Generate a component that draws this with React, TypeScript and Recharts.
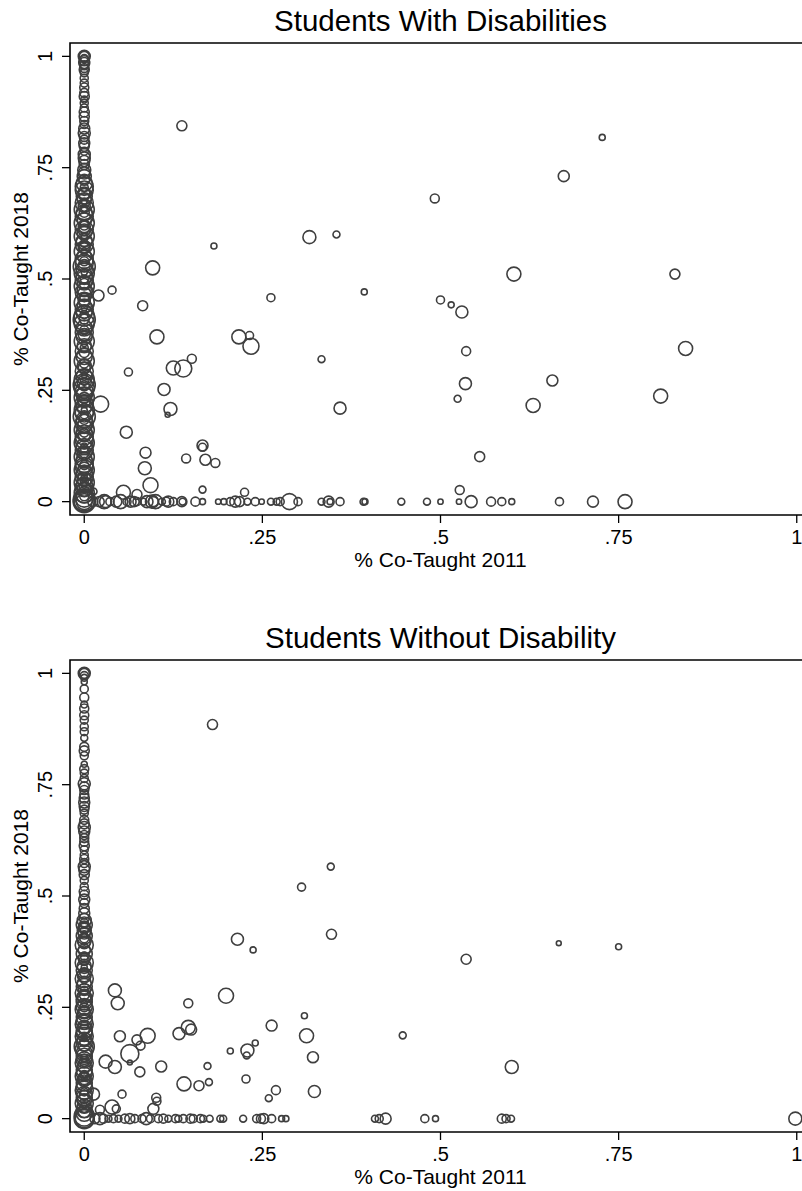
import { ScatterChart, Scatter, XAxis, YAxis, ZAxis, ReferenceArea } from 'recharts'

const FONT = '"Liberation Sans", Arial, Helvetica, sans-serif'
const INK = '#3f3f3f'

const xTicks = [0, 0.25, 0.5, 0.75, 1]
const yTicks = [0, 0.25, 0.5, 0.75, 1]
const xTitle = '% Co-Taught 2011'
const yTitle = '% Co-Taught 2018'
const titleSwd = 'Students With Disabilities'
const titleGen = 'Students Without Disability'

// Students with disabilities
// schools with no co-teaching in 2011: [share 2018, weight]
const swdNone2011 = [
  [1, 36], [1, 25], [0.995, 16], [0.99, 25], [0.985, 30], [0.98, 20], [0.974, 20],
  [0.97, 25], [0.963, 16], [0.951, 16], [0.94, 16], [0.93, 20], [0.918, 20],
  [0.91, 25], [0.903, 12], [0.895, 16], [0.884, 16], [0.875, 25], [0.865, 25],
  [0.855, 20], [0.847, 16], [0.838, 30], [0.828, 36], [0.82, 25], [0.813, 20],
  [0.805, 30], [0.798, 25], [0.787, 16], [0.78, 36], [0.772, 36], [0.765, 30],
  [0.757, 25], [0.745, 42], [0.738, 36], [0.73, 49], [0.723, 30], [0.715, 64],
  [0.708, 81], [0.7, 81], [0.693, 36], [0.686, 64], [0.678, 49], [0.671, 81],
  [0.663, 36], [0.656, 100], [0.648, 64], [0.641, 81], [0.633, 49], [0.626, 100],
  [0.618, 36], [0.611, 81], [0.603, 49], [0.596, 100], [0.585, 64], [0.578, 81],
  [0.57, 36], [0.562, 100], [0.551, 49], [0.544, 81], [0.536, 81], [0.528, 121],
  [0.521, 64], [0.513, 100], [0.506, 64], [0.498, 81], [0.491, 49], [0.484, 100],
  [0.476, 49], [0.47, 81], [0.465, 49], [0.454, 36], [0.447, 100], [0.439, 49],
  [0.432, 81], [0.424, 64], [0.417, 100], [0.409, 121], [0.4, 100], [0.39, 64],
  [0.38, 81], [0.371, 64], [0.36, 100], [0.35, 49], [0.338, 81], [0.326, 64],
  [0.316, 100], [0.305, 49], [0.293, 81], [0.281, 64], [0.274, 100], [0.268, 49],
  [0.262, 121], [0.255, 100], [0.247, 81], [0.24, 64], [0.234, 100], [0.229, 49],
  [0.22, 81], [0.214, 64], [0.206, 100], [0.199, 81], [0.191, 121], [0.184, 64],
  [0.176, 81], [0.169, 49], [0.161, 100], [0.154, 64], [0.147, 81], [0.139, 81],
  [0.132, 100], [0.124, 64], [0.116, 81], [0.109, 49], [0.101, 100], [0.094, 64],
  [0.086, 81], [0.079, 81], [0.071, 100], [0.064, 64], [0.056, 81], [0.049, 49],
  [0.043, 100], [0.038, 64], [0.032, 81], [0.027, 49], [0.02, 100], [0.015, 64],
  [0.008, 81], [0.004, 121], [0, 121], [0, 100], [0, 64],
  // smaller schools inside the band
  [0.705, 16], [0.66, 12], [0.62, 20], [0.58, 16], [0.54, 20], [0.5, 16], [0.46, 20],
  [0.42, 16], [0.385, 20], [0.345, 16], [0.31, 20], [0.27, 16], [0.23, 20],
  [0.195, 16], [0.155, 20], [0.12, 16], [0.082, 20], [0.046, 16], [0.012, 20],
  [0.69, 36], [0.65, 25], [0.61, 36], [0.57, 25], [0.53, 36], [0.49, 25], [0.45, 36],
  [0.41, 25], [0.375, 36], [0.335, 25], [0.3, 36], [0.26, 25], [0.225, 36],
  [0.185, 25], [0.15, 36], [0.11, 25], [0.075, 36], [0.035, 25],
  [0.675, 9], [0.595, 9], [0.515, 9], [0.435, 9], [0.355, 9], [0.285, 9],
  [0.205, 9], [0.125, 9], [0.055, 9],
]
// schools with no co-teaching in 2018: [share 2011, weight]
const swdNone2018 = [
  [0.012, 25], [0.021, 25], [0.028, 49], [0.03, 36], [0.036, 16], [0.045, 30],
  [0.051, 49], [0.06, 16], [0.065, 30], [0.07, 25], [0.074, 16], [0.083, 12],
  [0.088, 36], [0.095, 42], [0.097, 25], [0.1, 49], [0.109, 12], [0.115, 20],
  [0.118, 30], [0.125, 16], [0.137, 25], [0.138, 12], [0.156, 20], [0.166, 9],
  [0.188, 7], [0.196, 9], [0.205, 16], [0.212, 30], [0.218, 25], [0.229, 12],
  [0.24, 16], [0.249, 7], [0.262, 12], [0.27, 12], [0.275, 16], [0.288, 64],
  [0.3, 16], [0.333, 12], [0.343, 30], [0.345, 9], [0.359, 16], [0.392, 12],
  [0.394, 9], [0.445, 12], [0.481, 12], [0.5, 7], [0.526, 7], [0.543, 36],
  [0.571, 20], [0.586, 16], [0.6, 9], [0.667, 16], [0.714, 30], [0.759, 49],
]
// [share 2011, share 2018, weight]
const swdBoth = [
  [0.137, 0.844, 25], [0.316, 0.594, 42], [0.354, 0.6, 12], [0.182, 0.574, 9],
  [0.096, 0.525, 49], [0.02, 0.463, 30], [0.039, 0.475, 16], [0.393, 0.471, 9],
  [0.262, 0.458, 16], [0.727, 0.818, 9], [0.673, 0.731, 30], [0.492, 0.681, 20],
  [0.603, 0.511, 49], [0.829, 0.511, 25], [0.5, 0.453, 16], [0.515, 0.442, 9],
  [0.53, 0.426, 36], [0.536, 0.338, 20], [0.535, 0.265, 36], [0.524, 0.231, 12],
  [0.657, 0.272, 30], [0.63, 0.216, 49], [0.844, 0.344, 49], [0.809, 0.237, 49],
  [0.555, 0.101, 25], [0.527, 0.026, 20], [0.082, 0.44, 25], [0.102, 0.37, 49],
  [0.217, 0.37, 49], [0.232, 0.373, 16], [0.234, 0.349, 64], [0.151, 0.321, 20],
  [0.125, 0.3, 49], [0.139, 0.299, 72], [0.062, 0.291, 16], [0.333, 0.32, 12],
  [0.359, 0.21, 36], [0.112, 0.252, 36], [0.121, 0.208, 42], [0.117, 0.195, 6],
  [0.023, 0.219, 64], [0.059, 0.156, 36], [0.166, 0.126, 30], [0.166, 0.122, 16],
  [0.143, 0.097, 20], [0.17, 0.094, 30], [0.184, 0.087, 20], [0.086, 0.11, 30],
  [0.085, 0.075, 42], [0.093, 0.037, 56], [0.166, 0.027, 12], [0.225, 0.021, 16],
  [0.055, 0.021, 49], [0.074, 0.016, 25], [0.013, 0.023, 12],
]

// Students without disability
const genNone2011 = [
  [1, 36], [1, 25], [0.995, 16], [0.99, 12], [0.981, 9], [0.965, 16], [0.946, 20],
  [0.93, 12], [0.921, 20], [0.906, 20], [0.895, 16], [0.88, 16], [0.869, 16],
  [0.855, 12], [0.835, 20], [0.826, 25], [0.815, 16], [0.796, 9], [0.785, 20],
  [0.776, 16], [0.764, 16], [0.752, 36], [0.745, 25], [0.738, 20], [0.728, 20],
  [0.72, 25], [0.71, 30], [0.701, 25], [0.694, 20], [0.686, 16], [0.671, 20],
  [0.662, 25], [0.654, 36], [0.645, 30], [0.637, 20], [0.63, 20], [0.622, 20],
  [0.613, 25], [0.604, 16], [0.592, 16], [0.583, 20], [0.574, 20], [0.566, 36],
  [0.559, 30], [0.548, 25], [0.535, 16], [0.521, 16], [0.51, 25], [0.503, 20],
  [0.492, 30], [0.484, 20], [0.472, 25], [0.461, 30], [0.45, 25], [0.445, 49],
  [0.435, 64], [0.43, 36], [0.423, 49], [0.417, 36], [0.41, 64], [0.4, 49],
  [0.39, 81], [0.379, 36], [0.37, 64], [0.36, 36], [0.35, 81], [0.342, 49],
  [0.333, 64], [0.323, 49], [0.314, 81], [0.304, 49], [0.297, 64], [0.29, 36],
  [0.282, 81], [0.274, 49], [0.268, 64], [0.262, 64], [0.252, 64], [0.245, 81],
  [0.235, 49], [0.228, 64], [0.218, 64], [0.212, 81], [0.205, 49], [0.198, 64],
  [0.192, 64], [0.185, 81], [0.178, 49], [0.17, 64], [0.162, 100], [0.155, 81],
  [0.147, 64], [0.14, 64], [0.132, 64], [0.125, 81], [0.118, 49], [0.11, 64],
  [0.103, 64], [0.095, 81], [0.088, 49], [0.08, 64], [0.072, 64], [0.064, 81],
  [0.054, 64], [0.047, 64], [0.04, 49], [0.034, 81], [0.028, 49], [0.02, 64],
  [0.012, 64], [0.006, 100], [0, 100], [0, 81],
  // smaller schools inside the band
  [0.44, 16], [0.405, 20], [0.365, 16], [0.328, 20], [0.288, 16], [0.25, 20],
  [0.21, 16], [0.172, 20], [0.135, 16], [0.098, 20], [0.06, 16], [0.024, 20],
  [0.43, 25], [0.395, 36], [0.355, 25], [0.318, 36], [0.278, 25], [0.24, 36],
  [0.2, 25], [0.165, 36], [0.128, 25], [0.09, 36], [0.052, 25], [0.016, 36],
  [0.415, 9], [0.34, 9], [0.26, 9], [0.18, 9], [0.1, 9], [0.03, 9],
]
const genNone2018 = [
  [0.015, 25], [0.022, 36], [0.027, 20], [0.034, 12], [0.041, 16], [0.048, 12],
  [0.057, 20], [0.064, 25], [0.071, 16], [0.081, 16], [0.087, 36], [0.093, 16],
  [0.104, 16], [0.111, 20], [0.118, 12], [0.128, 16], [0.132, 12], [0.139, 16],
  [0.149, 20], [0.153, 16], [0.163, 16], [0.167, 12], [0.176, 12], [0.191, 12],
  [0.195, 12], [0.223, 12], [0.242, 16], [0.248, 20], [0.252, 25], [0.263, 16],
  [0.277, 9], [0.283, 9], [0.408, 12], [0.414, 16], [0.423, 30], [0.478, 16],
  [0.493, 9], [0.586, 20], [0.592, 16], [0.599, 12], [0.998, 42],
]
const genBoth = [
  [0.18, 0.885, 25], [0.305, 0.52, 16], [0.346, 0.566, 12], [0.347, 0.414, 25],
  [0.215, 0.403, 36], [0.237, 0.379, 9], [0.199, 0.276, 56], [0.043, 0.288, 42],
  [0.047, 0.259, 42], [0.146, 0.259, 20], [0.309, 0.231, 9], [0.263, 0.209, 30],
  [0.133, 0.191, 36], [0.146, 0.205, 49], [0.15, 0.2, 30], [0.312, 0.186, 49],
  [0.05, 0.185, 30], [0.089, 0.186, 56], [0.074, 0.177, 25], [0.079, 0.164, 20],
  [0.064, 0.146, 81], [0.064, 0.126, 6], [0.229, 0.153, 42], [0.228, 0.142, 12],
  [0.24, 0.17, 9], [0.205, 0.152, 9], [0.321, 0.138, 30], [0.03, 0.128, 42],
  [0.043, 0.116, 42], [0.078, 0.105, 25], [0.108, 0.117, 30], [0.173, 0.118, 12],
  [0.175, 0.082, 12], [0.14, 0.078, 49], [0.161, 0.074, 25], [0.227, 0.089, 16],
  [0.269, 0.064, 20], [0.259, 0.046, 12], [0.323, 0.061, 36], [0.053, 0.055, 16],
  [0.013, 0.055, 36], [0.101, 0.047, 20], [0.102, 0.039, 16], [0.097, 0.022, 30],
  [0.039, 0.026, 49], [0.022, 0.02, 20], [0.045, 0.022, 16], [0.447, 0.187, 12],
  [0.536, 0.358, 25], [0.666, 0.394, 6], [0.75, 0.386, 9], [0.6, 0.116, 42],
]

type Pt = { x: number; y: number; w: number }

function buildPoints(none2011: number[][], none2018: number[][], both: number[][]): Pt[] {
  return [
    ...none2011.map(([y, w]) => ({ x: 0, y, w })),
    ...none2018.map(([x, w]) => ({ x, y: 0, w })),
    ...both.map(([x, y, w]) => ({ x, y, w })),
  ]
}

const fmt = (v: number) => (v === 0 ? '0' : v === 1 ? '1' : String(v).replace(/^0/, ''))

function YTick(props: any) {
  const { x, y, payload } = props
  return (
    <text
      x={x}
      y={y}
      transform={`rotate(-90, ${x}, ${y})`}
      textAnchor="middle"
      fontSize={20}
      fontFamily={FONT}
      fill="#000"
    >
      {fmt(payload.value)}
    </text>
  )
}

function YTitle(props: any) {
  const vb = props.viewBox || { x: 0, y: 43, width: 70, height: 472 }
  const x = vb.x + 28
  const y = vb.y + vb.height / 2
  return (
    <text
      x={x}
      y={y}
      transform={`rotate(-90, ${x}, ${y})`}
      textAnchor="middle"
      fontSize={21}
      fontFamily={FONT}
      fill="#000"
    >
      {yTitle}
    </text>
  )
}

interface PanelProps {
  title: string
  points: Pt[]
  top: number
  height: number
}

function Panel({ title, points, top, height }: PanelProps) {
  const xAxisHeight = height - 515
  return (
    <div style={{ position: 'absolute', left: 0, top, width: 812, height }}>
      <ScatterChart
        width={812}
        height={height}
        margin={{ top: 43, right: 1, bottom: 0, left: 0 }}
      >
        <XAxis
          type="number"
          dataKey="x"
          domain={[-0.02, 1.02]}
          allowDataOverflow
          ticks={xTicks}
          tickFormatter={fmt}
          height={xAxisHeight}
          axisLine={false}
          tickSize={8}
          tickMargin={7}
          tickLine={{ stroke: '#000', strokeWidth: 1.3 }}
          tick={{ fill: '#000', fontSize: 20, fontFamily: FONT }}
          label={{
            value: xTitle,
            position: 'insideBottom',
            offset: xAxisHeight - 52,
            fill: '#000',
            fontSize: 21,
            fontFamily: FONT,
          }}
        />
        <YAxis
          type="number"
          dataKey="y"
          domain={[-0.03, 1.03]}
          allowDataOverflow
          ticks={yTicks}
          width={70}
          axisLine={false}
          tickSize={8}
          tickMargin={10}
          tickLine={{ stroke: '#000', strokeWidth: 1.3 }}
          tick={<YTick />}
          label={<YTitle />}
        />
        <ZAxis type="number" dataKey="w" domain={[0, 121]} range={[0, 121 * Math.PI]} />
        <ReferenceArea
          x1={-0.02}
          x2={1.02}
          y1={-0.03}
          y2={1.03}
          fill="none"
          fillOpacity={0}
          stroke="#000"
          strokeWidth={1.6}
        />
        <Scatter
          data={points}
          fill="none"
          stroke={INK}
          strokeWidth={1.6}
          isAnimationActive={false}
        />
      </ScatterChart>
      <svg
        width={812}
        height={40}
        style={{ position: 'absolute', left: 0, top: 0, pointerEvents: 'none' }}
      >
        <text x={440.5} y={31} textAnchor="middle" fontSize={29.5} fontFamily={FONT} fill="#000">
          {title}
        </text>
      </svg>
    </div>
  )
}

export default function App() {
  return (
    <div
      style={{
        position: 'absolute',
        left: 0,
        top: 0,
        width: 802,
        height: 1191,
        overflow: 'hidden',
        background: '#fff',
      }}
    >
      <Panel title={titleSwd} points={buildPoints(swdNone2011, swdNone2018, swdBoth)} top={0} height={600} />
      <Panel title={titleGen} points={buildPoints(genNone2011, genNone2018, genBoth)} top={617} height={574} />
    </div>
  )
}
